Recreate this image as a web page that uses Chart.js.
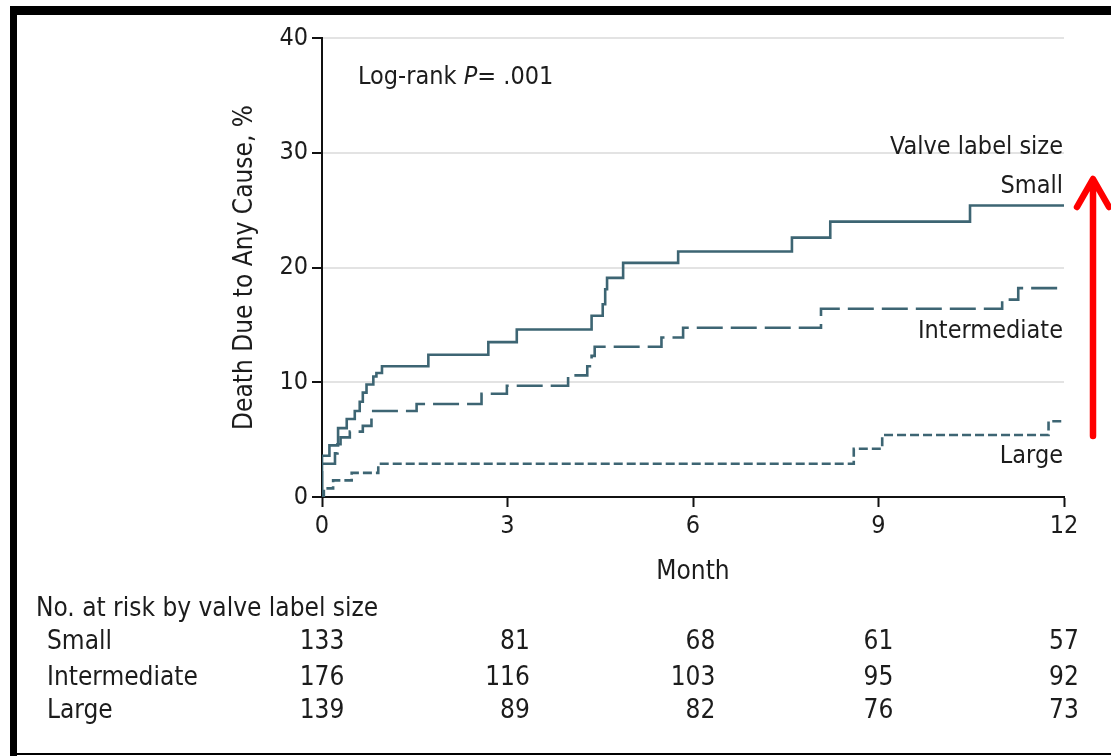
<!DOCTYPE html>
<html>
<head>
<meta charset="utf-8">
<script src="https://cdn.jsdelivr.net/npm/chart.js@4.4.1/dist/chart.umd.min.js"></script>
<style>
  html, body { margin: 0; padding: 0; background: #fff; }
  canvas { display: block; }
</style>
</head>
<body>
<canvas id="km" width="1111" height="756"></canvas>
<script>
// Kaplan-Meier: death due to any cause by valve label size
const monthTicks = [0, 3, 6, 9, 12];
const yTicks = [0, 10, 20, 30, 40];

// cumulative incidence (%) after each step, at the month it happens
const smallMonths = [0, 0, 0.12, 0.26, 0.40, 0.53, 0.61, 0.66, 0.72, 0.83, 0.88, 0.97, 1.72, 2.69, 3.15, 4.36, 4.54, 4.58, 4.61, 4.87, 5.76, 7.60, 8.22, 10.48, 12];
const smallPct    = [0, 3.6, 4.5, 6.0, 6.8, 7.5, 8.3, 9.1, 9.8, 10.5, 10.8, 11.4, 12.4, 13.5, 14.6, 15.8, 16.8, 18.1, 19.1, 20.4, 21.4, 22.6, 24.0, 25.4, 25.4];

const intermediateMonths = [0, 0, 0.21, 0.25, 0.30, 0.45, 0.66, 0.80, 1.53, 2.58, 2.99, 3.98, 4.29, 4.36, 4.41, 5.49, 5.84, 8.07, 11.00, 11.26, 12];
const intermediatePct    = [0, 2.9, 3.8, 4.6, 5.2, 5.7, 6.2, 7.5, 8.1, 9.0, 9.7, 10.6, 11.4, 12.3, 13.1, 13.9, 14.75, 16.4, 17.2, 18.2, 18.2];

const largeMonths = [0, 0.03, 0.18, 0.48, 0.91, 8.60, 9.06, 11.75, 12];
const largePct    = [0, 0.75, 1.45, 2.1, 2.9, 4.2, 5.4, 6.6, 6.6];

// number at risk at months 0, 3, 6, 9, 12
const groupNames = ['Small', 'Intermediate', 'Large'];
const riskSmall = [133, 81, 68, 61, 57];
const riskIntermediate = [176, 116, 103, 95, 92];
const riskLarge = [139, 89, 82, 76, 73];

const FONT = '"DejaVu Sans Condensed", "DejaVu Sans", sans-serif';
const INK = '#1c1c1c';
const CURVE = '#3d6573';

const toPoints = (xs, ys) => xs.map((x, i) => ({ x: x, y: ys[i] }));

const decor = {
  id: 'kmDecor',
  beforeDraw(chart) {
    const ctx = chart.ctx;
    ctx.save();
    ctx.fillStyle = '#fff';
    ctx.fillRect(0, 0, chart.width, chart.height);
    // frame
    ctx.fillStyle = '#000';
    ctx.fillRect(10, 6, chart.width - 10, 9);
    ctx.fillRect(10, 6, 7, chart.height - 6);
    ctx.fillRect(10, 753, chart.width - 10, 2);
    ctx.restore();
  },
  afterDraw(chart) {
    const ctx = chart.ctx;
    const xs = chart.scales.x, ys = chart.scales.y;
    const area = chart.chartArea;
    ctx.save();
    ctx.fillStyle = INK;

    // axis titles
    ctx.font = '26px ' + FONT;
    ctx.textAlign = 'center';
    ctx.textBaseline = 'middle';
    ctx.fillText('Month', (area.left + area.right) / 2, 572);
    ctx.save();
    ctx.translate(245, (area.top + area.bottom) / 2);
    ctx.rotate(-Math.PI / 2);
    ctx.fillText('Death Due to Any Cause, %', 0, 0);
    ctx.restore();

    // log-rank annotation
    ctx.font = '25px ' + FONT;
    ctx.textAlign = 'left';
    let tx = 358;
    const ty = 77;
    ctx.fillText('Log-rank ', tx, ty);
    tx += ctx.measureText('Log-rank ').width;
    ctx.font = 'italic 25px ' + FONT;
    ctx.fillText('P', tx, ty);
    tx += ctx.measureText('P').width;
    ctx.font = '25px ' + FONT;
    ctx.fillText('= .001', tx, ty);

    // curve labels
    ctx.textAlign = 'right';
    const lx = area.right - 1;
    [['Valve label size', 30.5], ['Small', 27.1], ['Intermediate', 14.4], ['Large', 3.57]]
      .forEach(([t, v]) => ctx.fillText(t, lx, ys.getPixelForValue(v)));

    // number at risk table
    ctx.font = '26px ' + FONT;
    ctx.textAlign = 'left';
    ctx.fillText('No. at risk by valve label size', 36, 609);
    const rows = [riskSmall, riskIntermediate, riskLarge];
    const rowY = [642, 678, 711];
    rows.forEach((r, i) => ctx.fillText(groupNames[i], 47, rowY[i]));
    ctx.textAlign = 'right';
    monthTicks.forEach((m, c) => {
      const cx = xs.getPixelForValue(m);
      const maxW = Math.max(...rows.map(r => ctx.measureText(String(r[c])).width));
      rows.forEach((r, i) => ctx.fillText(String(r[c]), cx + maxW / 2, rowY[i]));
    });

    // red arrow
    ctx.strokeStyle = '#ff0000';
    ctx.lineWidth = 6.5;
    ctx.lineCap = 'round';
    ctx.lineJoin = 'round';
    ctx.beginPath();
    ctx.moveTo(1093, 436);
    ctx.lineTo(1093, 180);
    ctx.moveTo(1077, 207);
    ctx.lineTo(1093, 179);
    ctx.lineTo(1109, 207);
    ctx.stroke();
    ctx.restore();
  }
};

const lineStyle = (dash) => ({
  borderColor: CURVE,
  borderWidth: 2.6,
  borderDash: dash,
  stepped: 'before',
  pointRadius: 0,
  fill: false,
  tension: 0
});

new Chart(document.getElementById('km'), {
  type: 'line',
  data: {
    datasets: [
      Object.assign({ label: 'Small', data: toPoints(smallMonths, smallPct) }, lineStyle([])),
      Object.assign({ label: 'Intermediate', data: toPoints(intermediateMonths, intermediatePct) }, lineStyle([26, 8])),
      Object.assign({ label: 'Large', data: toPoints(largeMonths, largePct) }, lineStyle([9, 4]))
    ]
  },
  options: {
    responsive: false,
    animation: false,
    devicePixelRatio: 1,
    layout: { padding: { top: 38, right: 47, left: 0, bottom: 0 } },
    plugins: { legend: { display: false }, tooltip: { enabled: false } },
    scales: {
      x: {
        type: 'linear',
        min: 0, max: 12,
        afterBuildTicks(s) { s.ticks = monthTicks.map(v => ({ value: v })); },
        afterFit(s) { s.height = 259; },
        grid: { drawOnChartArea: false, drawTicks: true, tickLength: 10, tickColor: '#111', tickWidth: 2 },
        border: { color: '#111', width: 2 },
        ticks: { font: { family: FONT, size: 25 }, color: INK, padding: 4, maxRotation: 0, autoSkip: false }
      },
      y: {
        min: 0, max: 40,
        afterBuildTicks(s) { s.ticks = yTicks.map(v => ({ value: v })); },
        afterFit(s) { s.width = 322; },
        grid: { color: '#e3e3e3', lineWidth: 2, tickColor: '#111', tickLength: 10, tickWidth: 2 },
        border: { color: '#111', width: 2 },
        ticks: { font: { family: FONT, size: 25 }, color: INK, padding: 4, autoSkip: false }
      }
    }
  },
  plugins: [decor]
});
</script>
</body>
</html>
